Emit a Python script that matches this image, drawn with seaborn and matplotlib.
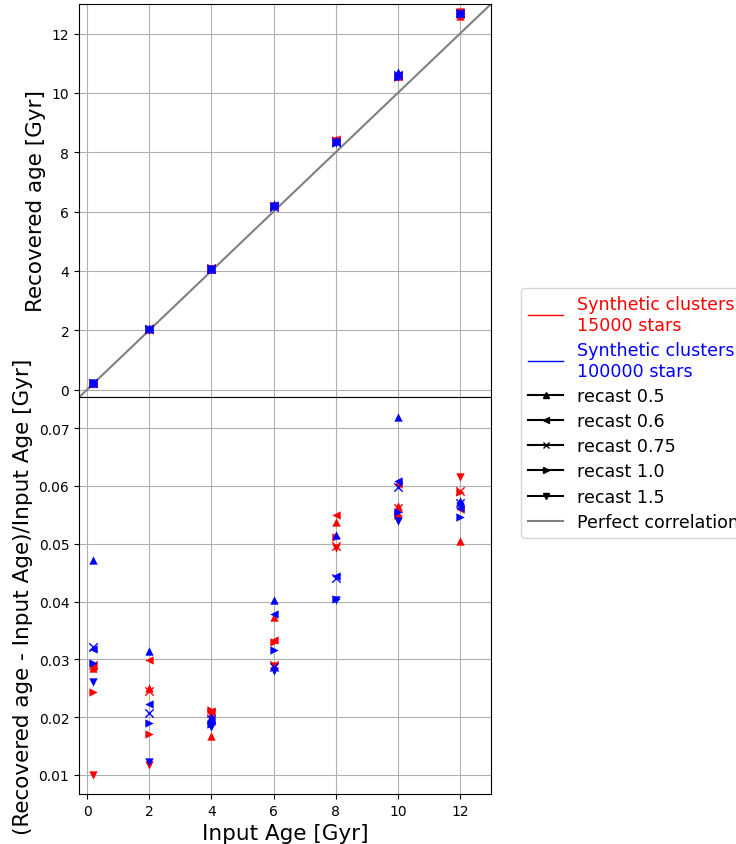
import numpy as np
import pandas as pd
import matplotlib
matplotlib.use("Agg")
import matplotlib.pyplot as plt
from matplotlib.lines import Line2D
import seaborn as sns

ages = [0.2, 2, 4, 6, 8, 10, 12]
recasts = ["0.5", "0.6", "0.75", "1.0", "1.5"]
markers = {"0.5": "^", "0.6": "<", "0.75": "x", "1.0": ">", "1.5": "v"}

# relative error (Recovered - Input)/Input, per recast, for each input age
red_rel = {
    "0.5":  [0.0285, 0.0250, 0.0168, 0.0373, 0.0537, 0.0566, 0.0505],
    "0.6":  [0.0288, 0.0299, 0.0210, 0.0333, 0.0550, 0.0604, 0.0560],
    "0.75": [0.0290, 0.0245, 0.0207, 0.0290, 0.0496, 0.0562, 0.0592],
    "1.0":  [0.0243, 0.0171, 0.0213, 0.0330, 0.0512, 0.0550, 0.0590],
    "1.5":  [0.0100, 0.0117, 0.0205, 0.0289, 0.0493, 0.0542, 0.0616],
}
blue_rel = {
    "0.5":  [0.0472, 0.0314, 0.0200, 0.0403, 0.0515, 0.0719, 0.0574],
    "0.6":  [0.0318, 0.0222, 0.0193, 0.0378, 0.0444, 0.0609, 0.0562],
    "0.75": [0.0321, 0.0208, 0.0197, 0.0286, 0.0440, 0.0598, 0.0570],
    "1.0":  [0.0294, 0.0190, 0.0188, 0.0316, 0.0405, 0.0555, 0.0547],
    "1.5":  [0.0260, 0.0123, 0.0183, 0.0279, 0.0403, 0.0540, 0.0565],
}

rows = []
for sample, rel in [("15000", red_rel), ("100000", blue_rel)]:
    for rc in recasts:
        for a, r in zip(ages, rel[rc]):
            rows.append(dict(sample=sample, recast=rc, age=a, rel=r, rec=a * (1 + r)))
df = pd.DataFrame(rows)
colors = {"15000": "red", "100000": "blue"}

fig = plt.figure(figsize=(7.36, 8.45), dpi=100)
ax1 = fig.add_axes([79/736, 1-398/845, 412/736, 393/845])
ax2 = fig.add_axes([79/736, 1-795/845, 412/736, 397/845], sharex=ax1)

for sample in ["15000", "100000"]:
    for rc in recasts:
        sub = df[(df["sample"] == sample) & (df["recast"] == rc)]
        m = markers[rc]
        kw = dict(marker=m, color=colors[sample], s=36, zorder=3)
        if m == "x":
            kw.update(linewidth=1.0)
        else:
            kw.update(linewidth=0)
        sns.scatterplot(data=sub, x="age", y="rec", ax=ax1, legend=False, **kw)
        sns.scatterplot(data=sub, x="age", y="rel", ax=ax2, legend=False, **kw)

ax1.plot([-1, 14], [-1, 14], color="gray", lw=1.5, zorder=2)
ax1.set_xlim(-0.26, 13)
ax1.set_ylim(-0.25, 13)
ax1.set_yticks([0, 2, 4, 6, 8, 10, 12])
ax1.set_xticks([0, 2, 4, 6, 8, 10, 12])
ax1.tick_params(labelbottom=False)
ax1.grid(True)
ax1.set_axisbelow(True)
ax1.set_xlabel("")
ax1.set_ylabel("Recovered age [Gyr]", fontsize=15.5)

ax2.set_ylim(0.0067, 0.0754)
ax2.set_yticks([0.01, 0.02, 0.03, 0.04, 0.05, 0.06, 0.07])
ax2.grid(True)
ax2.set_axisbelow(True)
ax2.set_xlabel("Input Age [Gyr]", fontsize=15.5)
ax2.set_ylabel("(Recovered age - Input Age)/Input Age [Gyr]", fontsize=15.5)

handles = [
    Line2D([], [], color="red", lw=1),
    Line2D([], [], color="blue", lw=1),
]
labels = ["Synthetic clusters\n15000 stars", "Synthetic clusters\n100000 stars"]
for rc in recasts:
    handles.append(Line2D([], [], color="black", lw=1.5, marker=markers[rc], markersize=4))
    labels.append(f"recast {rc}")
handles.append(Line2D([], [], color="gray", lw=1.5))
labels.append("Perfect correlation")

leg = fig.legend(handles, labels, loc="upper left", bbox_to_anchor=(521/736, 1-289/845),
                 borderaxespad=0, fontsize=12.6, labelspacing=0.41)
for t, c in zip(leg.get_texts()[:2], ["red", "blue"]):
    t.set_color(c)

fig.savefig("out.png", dpi=100)
